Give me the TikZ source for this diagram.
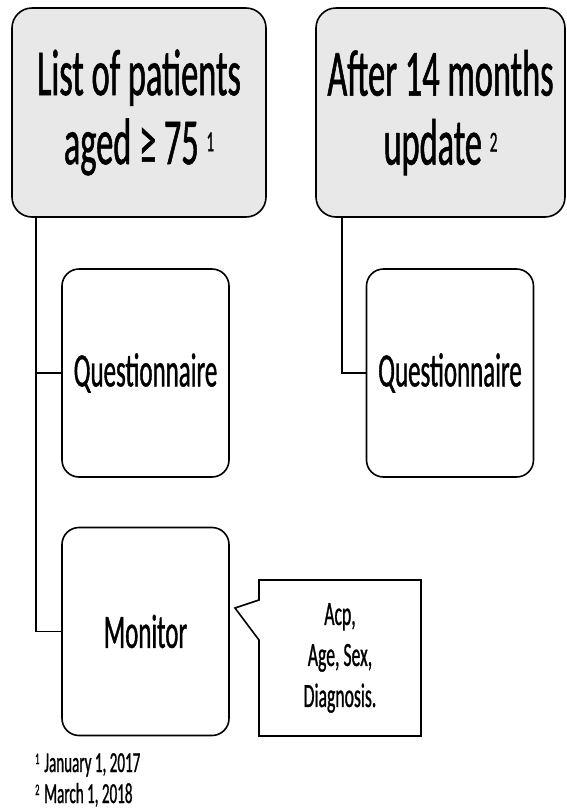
\documentclass[tikz,border=0pt]{standalone}
\usepackage{fontspec}
\setmainfont{Carlito}[FakeStretch=0.52,FakeBold=0.8]
\usetikzlibrary{shapes.callouts}
\definecolor{boxgray}{RGB}{232,232,232}
\newcommand{\fnmark}[3]{\raisebox{#2pt}{\fontsize{#3}{#3}\selectfont #1}}

\begin{document}
\begin{tikzpicture}[x=1pt,y=-1pt,
    head/.style={draw,line width=1.6pt,rounded corners=20pt,fill=boxgray,
      minimum height=209pt,inner sep=0pt,align=center,
      font=\fontsize{66}{69}\selectfont},
    item/.style={draw,line width=1.6pt,rounded corners=17pt,
      minimum width=167pt,minimum height=208pt,inner sep=0pt,
      font=\fontsize{48}{52}\selectfont},
    link/.style={line width=1.3pt}]
  \useasboundingbox (0,0) rectangle (566,812);

  \node [head,minimum width=254pt] (P) at (139,112.5) {List of patients\\aged ≥ 75 \fnmark{1}{13}{29}};
  \node [head,minimum width=249pt] (U) at (440.5,112.5) {After 14 months\\update \fnmark{2}{13}{29}};

  \node [item] (Q1) at (145.5,373) {Questionnaire};
  \node [item] (Q2) at (450,373) {Questionnaire};
  \node [item] (M) at (145.5,631.5) {Monitor};

  \node [rectangle callout,draw,line width=1.6pt,minimum width=162pt,
    minimum height=156pt,callout absolute pointer={(235,608)},
    callout pointer width=40pt,align=center,
    font=\fontsize{34}{41}\selectfont] (C) at (340,658) {Acp,\\Age, Sex,\\Diagnosis.};

  \coordinate (P0) at (36,217);
  \coordinate (U0) at (342,217);
  \draw [link] (P0) |- (Q1.west);
  \draw [link] (P0) |- (M.west);
  \draw [link] (U0) |- (Q2.west);

  \node [anchor=base west,inner sep=0pt,font=\fontsize{29}{31}\selectfont] (N1) at (35,772) {\fnmark{1}{8}{16}\,January 1, 2017};
  \node [anchor=base west,inner sep=0pt,font=\fontsize{29}{31}\selectfont] (N2) at (35,803) {\fnmark{2}{8}{16}\,March 1, 2018};
\end{tikzpicture}
\end{document}
